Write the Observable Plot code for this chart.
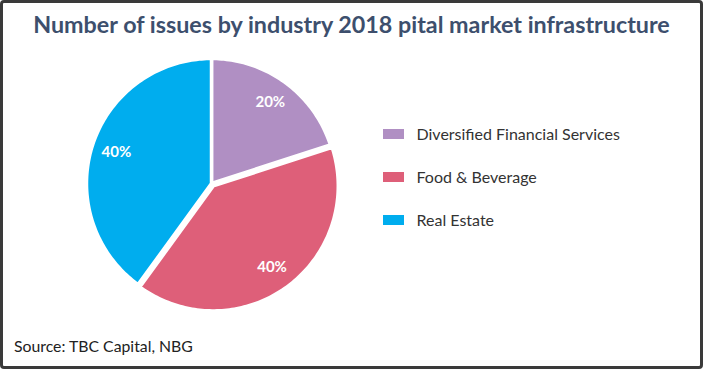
<!DOCTYPE html>
<html>
<head>
<meta charset="utf-8">
<script src="https://cdn.jsdelivr.net/npm/d3@7"></script>
<script src="https://cdn.jsdelivr.net/npm/@observablehq/plot@0.6"></script>
<style>
  html, body { margin: 0; padding: 0; background: #fff; }
  #frame {
    position: relative; width: 703px; height: 369px; box-sizing: border-box;
    border: 3px solid #3a3a3a; border-radius: 4px; overflow: hidden;
    font-family: Lato, "Open Sans", sans-serif;
  }
  #title {
    height: 42px; line-height: 42px; text-align: center;
    font-size: 23.3px; font-weight: bold; color: #3d4f6d; white-space: nowrap;
  }
  #chart svg { display: block; }
  #source {
    position: absolute; left: 11px; top: 333px;
    font-size: 15.8px; color: #222;
  }
</style>
</head>
<body>
<div id="frame">
  <div id="title">Number of issues by industry 2018 pital market infrastructure</div>
  <div id="chart"></div>
  <div id="source">Source: TBC Capital, NBG</div>
</div>
<script>
const categories = ["Diversified Financial Services", "Food & Beverage", "Real Estate"];
const shares = [20, 40, 40];
const labels = ["20%", "40%", "40%"];
const colors = ["#b08fc3", "#de5f79", "#00adee"];
const exploded = [false, true, false];

const W = 697, H = 285;
const cx = 208, cy = 138, R = 125;

const arcs = d3.pie().sort(null).value(d => d)(shares);

// slice outlines from the pie angles (clockwise from top)
const pts = [];
const labelPts = [];
arcs.forEach((a, i) => {
  const mid = (a.startAngle + a.endAngle) / 2;
  const off = exploded[i] ? 3 : 0;
  const ox = cx + off * Math.sin(mid), oy = cy - off * Math.cos(mid);
  pts.push({cat: categories[i], x: ox, y: oy});
  const n = Math.max(8, Math.ceil((a.endAngle - a.startAngle) / 0.02));
  for (let k = 0; k <= n; k++) {
    const t = a.startAngle + (a.endAngle - a.startAngle) * k / n;
    pts.push({cat: categories[i], x: ox + R * Math.sin(t), y: oy - R * Math.cos(t)});
  }
  labelPts.push({label: labels[i], x: ox + 0.8 * R * Math.sin(mid), y: oy - 0.8 * R * Math.cos(mid)});
});

const legend = categories.map((c, i) => ({cat: c, row: i}));
const lx = 380, ly0 = 89, lstep = 43;

const plot = Plot.plot({
  width: W, height: H, margin: 0,
  x: {domain: [0, W], range: [0, W], axis: null},
  y: {domain: [0, H], range: [0, H], axis: null},
  color: {domain: categories, range: colors},
  marks: [
    Plot.line(pts, {x: "x", y: "y", z: "cat", fill: "cat", stroke: "white", strokeWidth: 3.5, curve: "linear-closed"}),
    Plot.text(labelPts, {x: "x", y: "y", text: "label", fill: "white", fontSize: 15, fontWeight: "bold"}),
    Plot.rect(legend, {x1: () => lx, x2: () => lx + 21, y1: d => ly0 + d.row * lstep - 5, y2: d => ly0 + d.row * lstep + 5, fill: "cat"}),
    Plot.text(legend, {x: () => lx + 33, y: d => ly0 + d.row * lstep, text: "cat", textAnchor: "start", fill: "#333", fontSize: 16})
  ]
});
plot.style.fontFamily = "Lato, 'Open Sans', sans-serif";
document.getElementById("chart").appendChild(plot);
</script>
</body>
</html>
